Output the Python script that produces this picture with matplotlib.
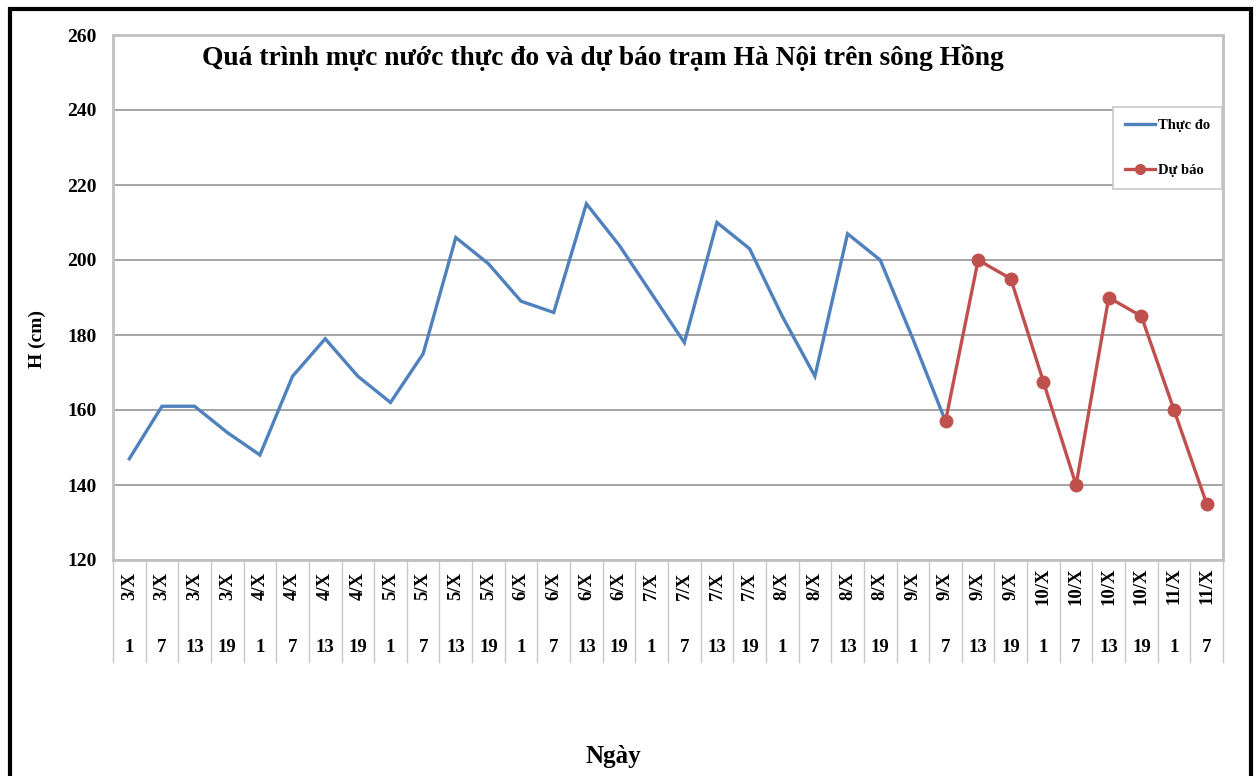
import matplotlib
matplotlib.use("Agg")
import matplotlib.pyplot as plt
from matplotlib.lines import Line2D
from matplotlib.patches import Rectangle
import matplotlib.transforms as mtransforms

days = ["3/X"] * 4 + ["4/X"] * 4 + ["5/X"] * 4 + ["6/X"] * 4 + ["7/X"] * 4 + \
       ["8/X"] * 4 + ["9/X"] * 4 + ["10/X"] * 4 + ["11/X"] * 2
hours = ["1", "7", "13", "19"] * 8 + ["1", "7"]

observed = [147, 161, 161, 154, 148, 169, 179, 169, 162, 175, 206, 199, 189,
            186, 215, 204, 191, 178, 210, 203, 185, 169, 207, 200, 179, 157]
forecast = [157, 200, 195, 167.5, 140, 190, 185, 160, 135]
forecast_start = 25

title = "Quá trình mực nước thực đo và dự báo trạm Hà Nội trên sông Hồng"

plt.rcParams['font.family'] = ['Liberation Serif', 'DejaVu Serif']
plt.rcParams['font.weight'] = 'bold'

W, H = 1259, 776
fig = plt.figure(figsize=(W / 100, H / 100), dpi=100)
x0, x1, ytop, ybot = 113, 1223, 35, 560
ax = fig.add_axes([x0 / W, 1 - ybot / H, (x1 - x0) / W, (ybot - ytop) / H])

n = len(days)
xo = list(range(len(observed)))
xf = list(range(forecast_start, forecast_start + len(forecast)))

ax.plot(xo, observed, color="#4F81BD", lw=2.4, solid_joinstyle="miter", zorder=3)
ax.plot(xf, forecast, color="#C0504D", lw=2.4, marker="o", ms=9, zorder=4)

ax.set_xlim(-0.5, n - 0.5)
ax.set_ylim(120, 260)
ax.set_yticks(range(120, 261, 20))
ax.yaxis.grid(True, color="#8c8c8c", lw=1.1)
ax.set_axisbelow(True)
ax.tick_params(axis="y", length=0, labelsize=14, pad=12)
ax.set_xticks([])
for lbl in ax.get_yticklabels():
    lbl.set_fontweight("bold")
for s in ax.spines.values():
    s.set_color("#c0c0c0")
    s.set_linewidth(2)

# category table below axis
trans = mtransforms.blended_transform_factory(ax.transData, ax.transAxes)
tb = -102 / (ybot - ytop)
for k in range(n + 1):
    ax.plot([k - 0.5, k - 0.5], [0, tb], transform=trans, color="#c8c8c8",
            lw=1, clip_on=False)
for i in range(n):
    ax.text(i, -26 / (ybot - ytop), days[i], transform=trans, rotation=90,
            ha="center", va="center", fontsize=13.5, fontweight="bold")
    ax.text(i, -87 / (ybot - ytop), hours[i], transform=trans,
            ha="center", va="center", fontsize=13.5, fontweight="bold")

ax.text((603 - x0) / (x1 - x0), (ybot - 58) / (ybot - ytop), title,
        transform=ax.transAxes, ha="center", va="center", fontsize=19.8,
        fontweight="bold")

fig.text(37 / W, 1 - 339 / H, "H (cm)", rotation=90, ha="center", va="center",
         fontsize=14, fontweight="bold")
fig.text(613 / W, 1 - 757 / H, "Ngày", ha="center", va="center",
         fontsize=18, fontweight="bold")

handles = [Line2D([], [], color="#4F81BD", lw=2.4),
           Line2D([], [], color="#C0504D", lw=2.4, marker="o", ms=7)]
leg = ax.legend(handles, ["Thực đo", "Dự báo"], loc="upper left",
                bbox_to_anchor=(1113 / W, 1 - 107 / H),
                bbox_transform=fig.transFigure,
                fancybox=False, framealpha=1, edgecolor="#c8c8c8",
                fontsize=10.5, labelspacing=2.2, handlelength=2.1,
                handletextpad=0.2, borderpad=0.8, borderaxespad=0)
leg.get_frame().set_linewidth(1.2)
for t in leg.get_texts():
    t.set_fontweight("bold")

fig.patches.append(Rectangle((10 / W, -0.05), (1251 - 10) / W, 1.05 - 9 / H,
                             transform=fig.transFigure, fill=False,
                             edgecolor="black", lw=3))

fig.savefig("out.png", dpi=100)
